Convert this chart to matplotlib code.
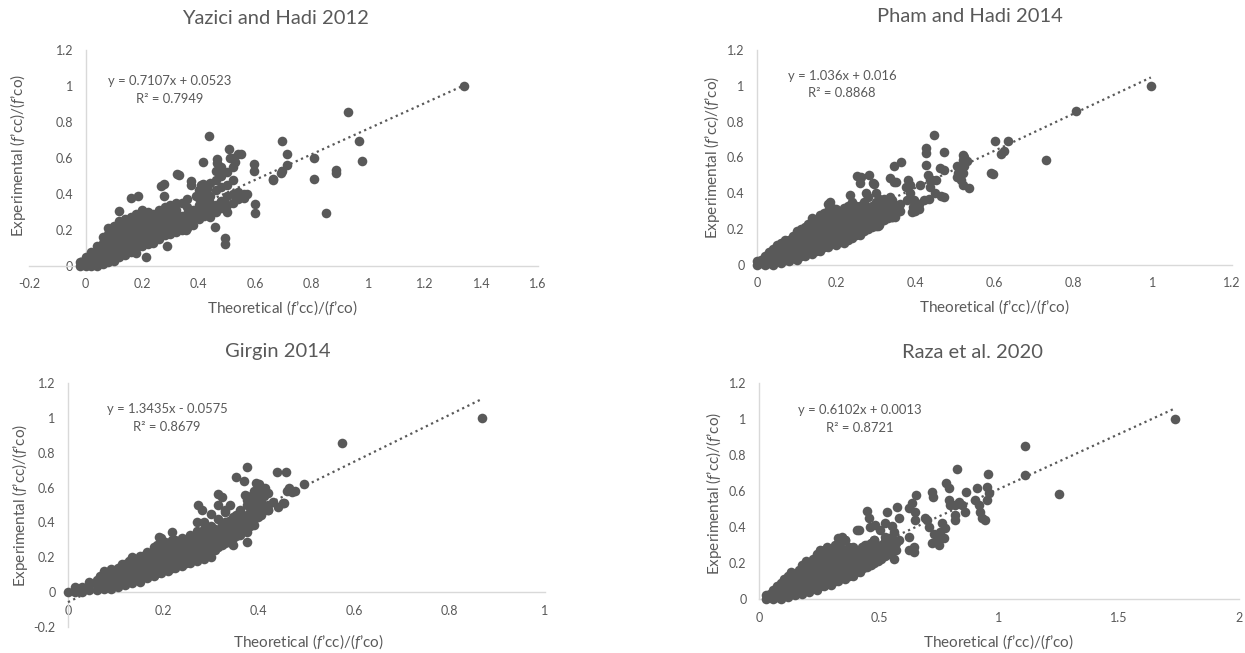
import matplotlib
matplotlib.use("Agg")
import matplotlib.pyplot as plt
from matplotlib.ticker import FuncFormatter

plt.rcParams['font.family'] = ['Lato', 'DejaVu Sans']
plt.rcParams['mathtext.fontset'] = 'custom'
plt.rcParams['mathtext.it'] = 'Lato:italic'
plt.rcParams['mathtext.rm'] = 'Lato'

# ---------------- data ----------------
# Yazici and Hadi 2012
yaz_band_x = [-0.02, 0.0, 0.02, 0.04, 0.06, 0.08, 0.10, 0.12, 0.14, 0.16, 0.18, 0.20, 0.22, 0.24, 0.26,
              0.28, 0.30, 0.32, 0.34, 0.36, 0.38, 0.40, 0.42, 0.44, 0.46, 0.48, 0.50, 0.52, 0.54, 0.56]
yaz_band_y = [
    [0.00, 0.02],
    [0.00, 0.03, 0.05],
    [0.00, 0.03, 0.06, 0.08],
    [0.00, 0.03, 0.07, 0.11],
    [0.01, 0.05, 0.09, 0.13, 0.16],
    [0.02, 0.06, 0.10, 0.14, 0.18, 0.21],
    [0.03, 0.07, 0.11, 0.15, 0.19, 0.22],
    [0.05, 0.09, 0.13, 0.17, 0.21, 0.25],
    [0.06, 0.10, 0.14, 0.18, 0.22, 0.26],
    [0.08, 0.12, 0.16, 0.20, 0.24, 0.27],
    [0.07, 0.10, 0.14, 0.18, 0.22, 0.26, 0.29],
    [0.11, 0.15, 0.19, 0.23, 0.27, 0.31],
    [0.12, 0.16, 0.20, 0.24, 0.28, 0.30],
    [0.13, 0.17, 0.21, 0.25, 0.29],
    [0.15, 0.19, 0.23, 0.27, 0.31],
    [0.17, 0.21, 0.25, 0.29, 0.33],
    [0.18, 0.22, 0.26, 0.30, 0.34],
    [0.19, 0.23, 0.27, 0.31, 0.35],
    [0.20, 0.24, 0.28, 0.35],
    [0.21, 0.25, 0.29, 0.33],
    [0.23, 0.27, 0.31],
    [0.26, 0.30, 0.34, 0.38, 0.42],
    [0.28, 0.32, 0.36, 0.40, 0.44],
    [0.27, 0.31, 0.35, 0.39, 0.46],
    [0.30, 0.34, 0.42, 0.48, 0.53],
    [0.32, 0.36, 0.44, 0.50, 0.55],
    [0.30, 0.34, 0.39, 0.45, 0.52],
    [0.35, 0.40, 0.48, 0.55, 0.60],
    [0.37, 0.41, 0.62],
    [0.40],
]
yaz_out_x = [1.34, 0.928, 0.966, 0.978, 0.696, 0.712, 0.712, 0.696, 0.664, 0.807, 0.807, 0.887, 0.887,
             0.849, 0.598, 0.598, 0.594, 0.594, 0.436, 0.506, 0.551, 0.465, 0.465, 0.417, 0.323, 0.329,
             0.279, 0.373, 0.373, 0.417, 0.493, 0.493, 0.456, 0.212, 0.279, 0.161, 0.186, 0.117, 0.288,
             0.354, 0.56, 0.57, 0.53, 0.51, 0.692, 0.662, 0.268, 0.41, 0.42, 0.43, 0.39, 0.36]
yaz_out_y = [1.0, 0.858, 0.695, 0.583, 0.695, 0.624, 0.56, 0.527, 0.484, 0.6, 0.484, 0.536, 0.518,
             0.297, 0.346, 0.293, 0.565, 0.527, 0.723, 0.649, 0.624, 0.596, 0.574, 0.578, 0.512, 0.505,
             0.456, 0.471, 0.45, 0.456, 0.153, 0.125, 0.218, 0.05, 0.387, 0.377, 0.387, 0.303, 0.11,
             0.2, 0.38, 0.4, 0.58, 0.6, 0.519, 0.476, 0.444, 0.45, 0.41, 0.43, 0.39, 0.37]

# Pham and Hadi 2014
pham_band_x = [0.00, 0.02, 0.04, 0.06, 0.08, 0.10, 0.12, 0.14, 0.16, 0.18, 0.20, 0.22, 0.24, 0.26,
               0.28, 0.30, 0.32, 0.34, 0.36]
pham_band_y = [
    [0.00, 0.02],
    [0.00, 0.03, 0.05],
    [0.00, 0.03, 0.06, 0.09],
    [0.01, 0.05, 0.09, 0.12],
    [0.02, 0.06, 0.10, 0.14],
    [0.03, 0.07, 0.11, 0.15, 0.19],
    [0.05, 0.09, 0.13, 0.17, 0.21],
    [0.06, 0.10, 0.14, 0.18, 0.22, 0.26],
    [0.08, 0.12, 0.16, 0.20, 0.24, 0.28],
    [0.10, 0.14, 0.18, 0.22, 0.26, 0.30, 0.34],
    [0.11, 0.15, 0.19, 0.23, 0.27, 0.31],
    [0.12, 0.16, 0.20, 0.24, 0.28, 0.32],
    [0.15, 0.19, 0.23, 0.27, 0.31, 0.35],
    [0.17, 0.21, 0.25, 0.29, 0.33],
    [0.20, 0.24, 0.28, 0.32, 0.38],
    [0.22, 0.26, 0.30, 0.35, 0.40],
    [0.25, 0.29, 0.33, 0.37],
    [0.27, 0.31, 0.36],
    [0.30, 0.34],
]
pham_band2_x = [0.01, 0.03, 0.05, 0.07, 0.09, 0.11, 0.13, 0.15, 0.17, 0.19, 0.21, 0.23, 0.25, 0.27,
                0.29, 0.31, 0.33, 0.35]
pham_band2_y = [
    [0.01, 0.03],
    [0.01, 0.04, 0.07],
    [0.02, 0.05, 0.08, 0.11],
    [0.03, 0.07, 0.11, 0.14],
    [0.04, 0.08, 0.12, 0.16],
    [0.05, 0.09, 0.13, 0.17, 0.20],
    [0.07, 0.11, 0.15, 0.19, 0.23],
    [0.08, 0.12, 0.16, 0.20, 0.24],
    [0.10, 0.14, 0.18, 0.22, 0.26, 0.29],
    [0.12, 0.16, 0.20, 0.24, 0.28, 0.32],
    [0.13, 0.17, 0.21, 0.25, 0.29],
    [0.14, 0.18, 0.22, 0.26, 0.30, 0.33],
    [0.17, 0.21, 0.25, 0.29, 0.33],
    [0.19, 0.23, 0.27, 0.31, 0.35],
    [0.21, 0.25, 0.29, 0.33],
    [0.24, 0.28, 0.32, 0.36],
    [0.26, 0.30, 0.34],
    [0.29, 0.33],
]
pham_out_x = [0.995, 0.805, 0.73, 0.60, 0.633, 0.616, 0.59, 0.597, 0.448, 0.473, 0.428, 0.428, 0.428,
              0.463, 0.466, 0.363, 0.347, 0.336, 0.347, 0.252, 0.26, 0.293, 0.341, 0.306, 0.26, 0.235,
              0.276, 0.184, 0.52, 0.524, 0.52, 0.524, 0.52, 0.515, 0.52, 0.504, 0.509, 0.505, 0.382,
              0.377, 0.387, 0.397, 0.407, 0.392, 0.422, 0.412, 0.438, 0.443, 0.433, 0.453, 0.38, 0.40,
              0.41, 0.435, 0.45, 0.296, 0.309, 0.335, 0.339, 0.348, 0.262, 0.283, 0.309, 0.352, 0.386,
              0.395, 0.408, 0.437, 0.472, 0.472, 0.625, 0.53, 0.535]
pham_out_y = [1.0, 0.86, 0.587, 0.693, 0.693, 0.618, 0.512, 0.509, 0.726, 0.628, 0.652, 0.624, 0.559,
              0.54, 0.385, 0.574, 0.555, 0.484, 0.466, 0.497, 0.456, 0.456, 0.27, 0.218, 0.186, 0.392,
              0.40, 0.354, 0.615, 0.60, 0.587, 0.55, 0.512, 0.475, 0.447, 0.55, 0.512, 0.49, 0.475,
              0.438, 0.40, 0.363, 0.326, 0.298, 0.363, 0.447, 0.438, 0.475, 0.503, 0.475, 0.36, 0.30,
              0.34, 0.37, 0.40, 0.454, 0.37, 0.38, 0.324, 0.269, 0.49, 0.50, 0.222, 0.463, 0.444,
              0.324, 0.315, 0.472, 0.528, 0.38, 0.635, 0.58, 0.43]

# Girgin 2014
gir_band_x = [0.000, 0.015, 0.030, 0.045, 0.060, 0.075, 0.090, 0.105, 0.120, 0.135, 0.150, 0.165,
              0.180, 0.195, 0.210, 0.225, 0.240, 0.255, 0.270, 0.285, 0.300, 0.315, 0.330, 0.345,
              0.360, 0.375, 0.390, 0.405, 0.420]
gir_band_y = [
    [0.00],
    [0.00, 0.03],
    [0.00, 0.03],
    [0.01, 0.04, 0.06],
    [0.01, 0.04, 0.07],
    [0.02, 0.05, 0.08, 0.12],
    [0.02, 0.06, 0.10, 0.13],
    [0.03, 0.07, 0.11, 0.14],
    [0.04, 0.08, 0.12, 0.16],
    [0.05, 0.09, 0.13, 0.17, 0.20],
    [0.06, 0.10, 0.14, 0.18, 0.21],
    [0.08, 0.12, 0.16, 0.20, 0.23],
    [0.09, 0.13, 0.17, 0.21, 0.26],
    [0.11, 0.15, 0.19, 0.23, 0.27, 0.31],
    [0.12, 0.16, 0.20, 0.24, 0.28],
    [0.14, 0.18, 0.22, 0.26, 0.30],
    [0.15, 0.19, 0.23, 0.27, 0.31],
    [0.17, 0.21, 0.25, 0.29, 0.33],
    [0.18, 0.22, 0.26, 0.30, 0.35, 0.40],
    [0.19, 0.23, 0.27, 0.31, 0.36],
    [0.20, 0.24, 0.28, 0.32, 0.38, 0.45],
    [0.26, 0.30, 0.34, 0.42, 0.50],
    [0.28, 0.32, 0.36, 0.40, 0.46],
    [0.27, 0.31, 0.35, 0.39, 0.43],
    [0.33, 0.37, 0.41, 0.47],
    [0.36, 0.40, 0.44, 0.50, 0.55],
    [0.42, 0.46, 0.50, 0.54, 0.58],
    [0.44, 0.48, 0.52, 0.56],
    [0.47, 0.50, 0.57],
]
gir_band2_x = [0.0675, 0.0825, 0.0975, 0.1125, 0.1275, 0.1425, 0.1575, 0.1725, 0.1875, 0.2025, 0.2175,
               0.2325, 0.2475, 0.2625, 0.2775, 0.2925, 0.3075, 0.3225, 0.3375, 0.3525, 0.3675, 0.3825,
               0.3975]
gir_band2_y = [
    [0.03, 0.06, 0.09],
    [0.04, 0.08, 0.11],
    [0.05, 0.09, 0.12],
    [0.05, 0.09, 0.13, 0.16],
    [0.07, 0.11, 0.15, 0.18],
    [0.08, 0.12, 0.16, 0.19],
    [0.09, 0.13, 0.17, 0.21],
    [0.10, 0.14, 0.18, 0.22],
    [0.11, 0.15, 0.19, 0.23, 0.27],
    [0.13, 0.17, 0.21, 0.25, 0.29],
    [0.14, 0.18, 0.22, 0.26, 0.30],
    [0.16, 0.20, 0.24, 0.28],
    [0.17, 0.21, 0.25, 0.29],
    [0.19, 0.23, 0.27, 0.31],
    [0.20, 0.24, 0.28, 0.33],
    [0.22, 0.26, 0.30, 0.34],
    [0.24, 0.28, 0.32, 0.36],
    [0.27, 0.31, 0.35, 0.39],
    [0.29, 0.33, 0.37, 0.41],
    [0.32, 0.36, 0.40, 0.44],
    [0.35, 0.39, 0.43],
    [0.38, 0.42, 0.46, 0.52],
    [0.43, 0.47, 0.51, 0.55],
]
gir_out_x = [0.867, 0.575, 0.494, 0.375, 0.439, 0.458, 0.352, 0.37, 0.394, 0.413, 0.464, 0.469, 0.451,
             0.371, 0.375, 0.315, 0.323, 0.273, 0.281, 0.285, 0.375, 0.375, 0.39, 0.413, 0.19, 0.217,
             0.46, 0.475, 0.40, 0.39, 0.38, 0.36, 0.35, 0.33, 0.34, 0.453, 0.40, 0.41, 0.43, 0.44, 0.42]
gir_out_y = [1.0, 0.856, 0.619, 0.718, 0.69, 0.69, 0.661, 0.638, 0.628, 0.598, 0.598, 0.575, 0.511,
             0.556, 0.527, 0.565, 0.546, 0.498, 0.469, 0.402, 0.345, 0.287, 0.383, 0.469, 0.316, 0.345,
             0.58, 0.58, 0.60, 0.53, 0.50, 0.45, 0.42, 0.47, 0.50, 0.514, 0.62, 0.55, 0.52, 0.49, 0.47]

# Raza et al. 2020
raza_band_x = [0.03, 0.06, 0.09, 0.12, 0.15, 0.18, 0.21, 0.24, 0.27, 0.30, 0.33, 0.36, 0.39, 0.42,
               0.45, 0.48, 0.51, 0.54, 0.57]
raza_band_y = [
    [0.00, 0.02],
    [0.00, 0.03, 0.05],
    [0.00, 0.03, 0.06, 0.09],
    [0.01, 0.05, 0.09, 0.13],
    [0.02, 0.06, 0.10, 0.14],
    [0.03, 0.07, 0.11, 0.15, 0.19],
    [0.04, 0.08, 0.12, 0.16, 0.20],
    [0.05, 0.09, 0.13, 0.17, 0.21, 0.25],
    [0.07, 0.11, 0.15, 0.19, 0.23, 0.27],
    [0.08, 0.12, 0.16, 0.20, 0.24, 0.28],
    [0.10, 0.14, 0.18, 0.22, 0.26, 0.30, 0.34],
    [0.11, 0.15, 0.19, 0.23, 0.27, 0.33],
    [0.13, 0.17, 0.21, 0.25, 0.29],
    [0.15, 0.19, 0.23, 0.27],
    [0.18, 0.22, 0.26, 0.30],
    [0.20, 0.24, 0.28, 0.33],
    [0.22, 0.26, 0.30],
    [0.25, 0.29, 0.34],
    [0.27, 0.31],
]
raza_band2_x = [0.045, 0.075, 0.105, 0.135, 0.165, 0.195, 0.225, 0.255, 0.285, 0.315, 0.345, 0.375,
                0.405, 0.435, 0.465, 0.495, 0.525, 0.555]
raza_band2_y = [
    [0.01, 0.03],
    [0.01, 0.04, 0.07],
    [0.02, 0.05, 0.08, 0.11],
    [0.03, 0.07, 0.11, 0.15],
    [0.04, 0.08, 0.12, 0.16],
    [0.05, 0.09, 0.13, 0.17, 0.21],
    [0.06, 0.10, 0.14, 0.18, 0.22],
    [0.07, 0.11, 0.15, 0.19, 0.23, 0.27],
    [0.09, 0.13, 0.17, 0.21, 0.25, 0.29],
    [0.10, 0.14, 0.18, 0.22, 0.26, 0.30],
    [0.12, 0.16, 0.20, 0.24, 0.28, 0.32],
    [0.13, 0.17, 0.21, 0.25, 0.29],
    [0.15, 0.19, 0.23, 0.27],
    [0.17, 0.21, 0.25, 0.29],
    [0.19, 0.23, 0.27, 0.31],
    [0.21, 0.25, 0.29],
    [0.24, 0.28, 0.32],
    [0.26, 0.30],
]
raza_out_x = [1.735, 1.107, 1.107, 1.25, 0.954, 0.825, 0.779, 0.79, 0.721, 0.724, 0.654, 0.862, 0.908,
              0.95, 0.957, 0.95, 0.79, 0.797, 0.818, 0.832, 0.846, 0.857, 0.90, 0.915, 0.922, 0.929,
              0.943, 0.818, 0.818, 0.762, 0.776, 0.755, 0.651, 0.651, 0.624, 0.637, 0.575, 0.582, 0.533,
              0.526, 0.561, 0.561, 0.582, 0.624, 0.624, 0.645, 0.645, 0.561, 0.45, 0.457, 0.464, 0.485,
              0.505, 0.526, 0.478, 0.512, 0.415, 0.346, 0.36, 0.332, 0.408, 0.555, 0.70, 0.71, 0.73,
              0.74, 0.75, 0.72, 0.69, 0.77, 0.44, 0.47, 0.40, 0.43]
raza_out_y = [1.0, 0.85, 0.689, 0.585, 0.692, 0.72, 0.646, 0.615, 0.596, 0.568, 0.578, 0.596, 0.615,
              0.624, 0.587, 0.55, 0.55, 0.522, 0.522, 0.541, 0.522, 0.485, 0.55, 0.522, 0.485, 0.448,
              0.439, 0.467, 0.439, 0.42, 0.392, 0.374, 0.485, 0.439, 0.504, 0.531, 0.513, 0.448, 0.485,
              0.42, 0.374, 0.328, 0.328, 0.346, 0.272, 0.291, 0.263, 0.222, 0.49, 0.448, 0.402, 0.411,
              0.383, 0.346, 0.328, 0.291, 0.383, 0.346, 0.328, 0.291, 0.385, 0.404, 0.44, 0.40, 0.36,
              0.33, 0.30, 0.31, 0.45, 0.34, 0.30, 0.27, 0.27, 0.29]

titles = ["Yazici and Hadi 2012", "Pham and Hadi 2014", "Girgin 2014", "Raza et al. 2020"]
slopes = [0.7107, 1.036, 1.3435, 0.6102]
intercepts = [0.0523, 0.016, -0.0575, 0.0013]
eq_texts = ["y = 0.7107x + 0.0523", "y = 1.036x + 0.016", "y = 1.3435x - 0.0575", "y = 0.6102x + 0.0013"]
r2_texts = ["R² = 0.7949", "R² = 0.8868", "R² = 0.8679", "R² = 0.8721"]
x_ticks = [[-0.2, 0, 0.2, 0.4, 0.6, 0.8, 1, 1.2, 1.4, 1.6],
           [0, 0.2, 0.4, 0.6, 0.8, 1, 1.2],
           [0, 0.2, 0.4, 0.6, 0.8, 1],
           [0, 0.5, 1, 1.5, 2]]
y_ticks = [[0, 0.2, 0.4, 0.6, 0.8, 1, 1.2],
           [0, 0.2, 0.4, 0.6, 0.8, 1, 1.2],
           [-0.2, 0, 0.2, 0.4, 0.6, 0.8, 1, 1.2],
           [0, 0.2, 0.4, 0.6, 0.8, 1, 1.2]]
x_label = "Theoretical ($f$’cc)/($f$’co)"
y_label = "Experimental ($f$’cc)/($f$’co)"


def flatten(*groups):
    xs, ys = [], []
    for col_x, col_y in groups:
        for x, col in zip(col_x, col_y):
            for y in col:
                xs.append(x)
                ys.append(y)
    return xs, ys


def combine(bands, out_x, out_y):
    xs, ys = flatten(*bands)
    return xs + list(out_x), ys + list(out_y)


series = [combine([(yaz_band_x, yaz_band_y)], yaz_out_x, yaz_out_y),
          combine([(pham_band_x, pham_band_y), (pham_band2_x, pham_band2_y)], pham_out_x, pham_out_y),
          combine([(gir_band_x, gir_band_y), (gir_band2_x, gir_band2_y)], gir_out_x, gir_out_y),
          combine([(raza_band_x, raza_band_y), (raza_band2_x, raza_band2_y)], raza_out_x, raza_out_y)]

# ---------------- layout (pixels) ----------------
W, H = 1245, 653
DARK = '#595959'
AXC = '#D9D9D9'
fig = plt.figure(figsize=(W / 100, H / 100), dpi=100)


def rect(x0, x1, ytop, ybot):
    return [x0 / W, 1 - ybot / H, (x1 - x0) / W, (ybot - ytop) / H]


def ftext(px, py, s, **kw):
    fig.text(px / W, 1 - py / H, s, ha='center', va='center', color=DARK, **kw)


axes_rects = [rect(29, 538, 50, 266), rect(757, 1232, 50, 265),
              rect(68, 545, 383, 627), rect(759, 1239, 383, 599)]
title_pos = [(275, 18), (970, 17), (278, 351), (972, 352)]
xlabel_pos = [(282, 308), (994, 307), (308, 642), (998, 642)]
ylabel_pos = [(18, 155), (712, 157), (20, 505), (714, 493)]
eq_pos = [(170, 81), (842, 76), (167, 409), (860, 410)]
r2_pos = [(170, 99), (842, 93), (167, 427), (860, 428)]

fmt = FuncFormatter(lambda v, p: f"{v:g}")

for i in range(4):
    ax = fig.add_axes(axes_rects[i])
    xs, ys = series[i]
    xt, yt = x_ticks[i], y_ticks[i]
    ax.set_xlim(xt[0], xt[-1])
    ax.set_ylim(yt[0], yt[-1])
    ax.set_xticks(xt)
    ax.set_yticks(yt)
    ax.xaxis.set_major_formatter(fmt)
    ax.yaxis.set_major_formatter(fmt)
    ax.scatter(xs, ys, s=48, color=DARK, linewidths=0, clip_on=False, zorder=3)
    x0, x1 = min(xs), max(xs)
    ax.plot([x0, x1], [slopes[i] * x0 + intercepts[i], slopes[i] * x1 + intercepts[i]],
            linestyle=(0, (1, 1.6)), color=DARK, lw=1.6, zorder=4, clip_on=False)
    for side in ['top', 'right']:
        ax.spines[side].set_visible(False)
    ax.spines['left'].set_position(('data', 0))
    ax.spines['bottom'].set_position(('data', 0))
    for side in ['left', 'bottom']:
        ax.spines[side].set_color(AXC)
        ax.spines[side].set_linewidth(1.0)
    ax.tick_params(length=0, labelsize=9, labelcolor=DARK)
    ax.tick_params(axis='x', pad=9)
    ax.tick_params(axis='y', pad=9)
    ax.patch.set_visible(False)

    ftext(*title_pos[i], titles[i], fontsize=14.5)
    ftext(*xlabel_pos[i], x_label, fontsize=11)
    ftext(*ylabel_pos[i], y_label, fontsize=11, rotation=90)
    ftext(*eq_pos[i], eq_texts[i], fontsize=9.4)
    ftext(*r2_pos[i], r2_texts[i], fontsize=9.4)

fig.savefig('out.png', dpi=100)
